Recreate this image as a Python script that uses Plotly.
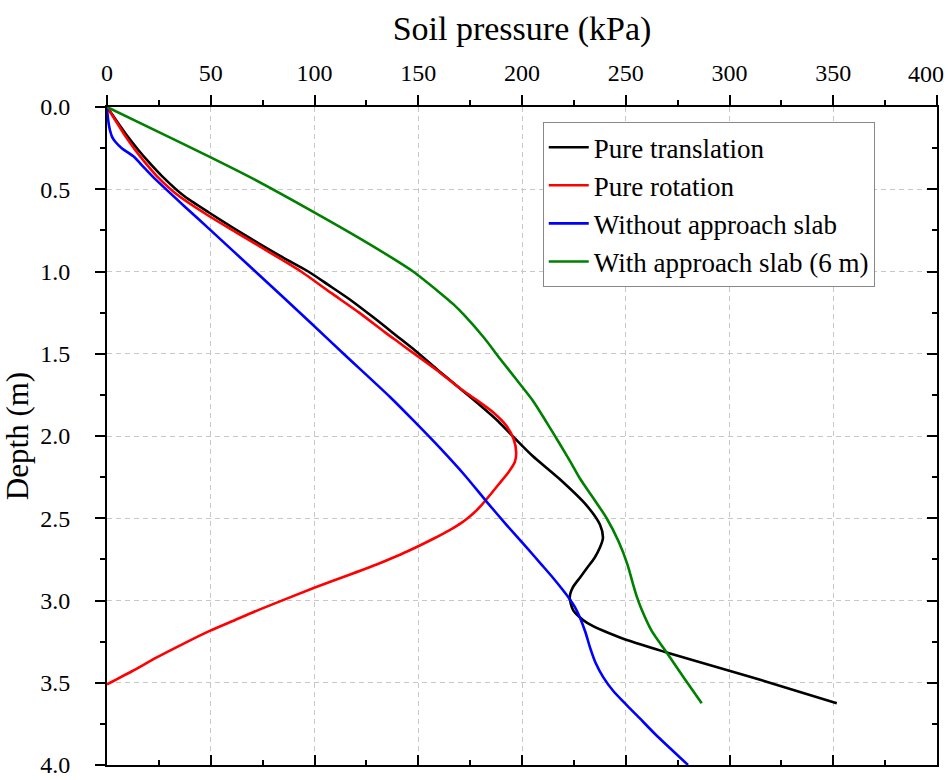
import plotly.graph_objects as go

# ---- data ----
trans_depth = [0, 0.10, 0.18, 0.26, 0.34, 0.42, 0.54, 0.643, 0.74, 0.84, 0.92, 1.00, 1.08,
               1.17, 1.28, 1.39, 1.47, 1.60, 1.71, 1.81, 1.91, 2.02, 2.12, 2.26, 2.42, 2.54,
               2.62, 2.68, 2.74, 2.80, 2.86, 2.92, 2.98, 3.06, 3.135, 3.225, 3.316, 3.417,
               3.498, 3.625]
trans_p = [0, 5.5, 10, 15, 20.5, 26.5, 37, 49.3, 61.5, 74.5, 85.5, 97, 106.5,
           117, 128.5, 139.5, 147.5, 159.5, 170, 179.5, 188.5, 197, 205, 218, 231, 237.6,
           239, 237.5, 235, 231.5, 228, 224.5, 223, 224.7, 231.2, 247.2, 269.7, 297,
           319, 351.7]

rot_depth = [0, 0.10, 0.18, 0.26, 0.34, 0.42, 0.54, 0.664, 0.76, 0.85, 0.93, 1.00, 1.13,
             1.25, 1.37, 1.43, 1.49, 1.60, 1.71, 1.78, 1.85, 1.94, 2.02, 2.10, 2.16, 2.22,
             2.29, 2.36, 2.43, 2.47, 2.50, 2.53, 2.56, 2.59, 2.62, 2.67, 2.72, 2.77, 2.84,
             2.92, 3.054, 3.12, 3.185, 3.265, 3.346, 3.43, 3.51]
rot_p = [0, 5, 9, 13.5, 18.5, 24, 34.5, 49.3, 62, 74, 84.5, 93.5, 108,
         121.5, 134, 140.5, 147, 159, 170, 178, 185.5, 192.6, 196, 197.2, 196.5, 193.5,
         189, 184.5, 179.8, 176.6, 173.8, 170.6, 166.8, 162.5, 158, 150, 141.5, 132, 117.5,
         100.5, 73.7, 61.5, 49.5, 36.5, 24, 12, 0]

noslab_depth = [0, 0.05, 0.10, 0.14, 0.18, 0.21, 0.25, 0.30, 0.37, 0.44, 0.60, 0.744, 1.00,
                1.31, 1.50, 1.763, 1.91, 2.08, 2.24, 2.40, 2.54, 2.68, 2.78, 2.86, 2.93,
                2.983, 3.04, 3.10, 3.19, 3.286, 3.38, 3.467, 3.55, 3.63, 3.70, 3.81, 3.90, 4.00]
noslab_p = [0, 0.3, 0.8, 1.4, 2.4, 3.9, 7.1, 12.7, 18, 23.4, 37, 49.5, 71.5,
            98, 114, 136.4, 148, 161, 172.5, 183, 192.5, 202.4, 209.3, 214.8, 219.3,
            222.5, 225.5, 227.8, 230.5, 232.8, 235.5, 239.2, 244, 250, 255.5, 264, 271.5, 280]

slab_depth = [0, 0.15, 0.30, 0.44, 0.634, 0.80, 0.946, 1.00, 1.13, 1.20, 1.27, 1.40, 1.53,
              1.66, 1.79, 1.92, 2.05, 2.16, 2.26, 2.38, 2.50, 2.64, 2.78, 2.90, 2.983,
              3.044, 3.185, 3.316, 3.47, 3.625]
slab_p = [0, 24.5, 49, 71, 99, 122, 141, 147.5, 160.5, 167, 172.5, 181.5, 189.4,
          197.5, 205.5, 212, 218.3, 223.5, 228, 234.5, 240.8, 246.5, 250.8, 253.5, 255.5,
          257.3, 262.5, 269.7, 278, 286.6]

x_tick_step = 50
y_tick_step = 0.5
x_max = 400
y_max = 4

series = [
    ("Pure translation", trans_p, trans_depth, "#000000"),
    ("Pure rotation", rot_p, rot_depth, "#ff0000"),
    ("Without approach slab", noslab_p, noslab_depth, "#0000ff"),
    ("With approach slab (6 m)", slab_p, slab_depth, "#008000"),
]

FONT = "Liberation Serif"
X_RANGE = [0, x_max]
Y_RANGE = [y_max, 0]
GRID = dict(showgrid=True, gridcolor="#c8c8c8", griddash="5px,4px", gridwidth=1)
TOP, BOTTOM = 107, 15

fig = go.Figure()
for name, xs, ys, col in series:
    fig.add_trace(go.Scatter(
        x=xs, y=ys, name=name, mode="lines",
        line=dict(color=col, width=2.6, shape="spline", smoothing=0.7),
    ))

# dummy trace to show the mirrored (inward-tick) bottom and right axes
fig.add_trace(go.Scatter(x=[None], y=[None], xaxis="x2", yaxis="y2",
                         showlegend=False, hoverinfo="skip"))

common_major = dict(ticklen=10, tickwidth=2, tickcolor="black", automargin=False,
                    showline=True, linecolor="black", linewidth=2, zeroline=False)

fig.update_layout(
    width=952, height=780,
    margin=dict(l=107, r=15, t=TOP, b=BOTTOM, autoexpand=False),
    paper_bgcolor="white", plot_bgcolor="white",
    font=dict(family=FONT, color="black"),
    showlegend=True,
    legend=dict(
        x=0.525, y=0.977, xanchor="left", yanchor="top",
        bordercolor="#888888", borderwidth=1, bgcolor="white",
        font=dict(family=FONT, size=27, color="black"),
        tracegroupgap=0, itemwidth=40,
    ),
    xaxis=dict(
        side="top", range=X_RANGE, tickmode="linear", tick0=0, dtick=x_tick_step,
        ticks="outside", ticklabeloverflow="allow", labelalias={str(x_max): ""},
        minor=dict(ticks="outside", ticklen=5, tickwidth=2, tickcolor="black", dtick=x_tick_step / 2, showgrid=False),
        tickfont=dict(family=FONT, size=24, color="black"),
        ticklabelstandoff=4,
        title=dict(text="Soil pressure (kPa)", font=dict(family=FONT, size=34, color="black"), standoff=10),
        **GRID, **common_major,
    ),
    yaxis=dict(
        range=Y_RANGE, tickmode="linear", tick0=0, dtick=y_tick_step, tickformat=".1f",
        ticks="outside", ticklabeloverflow="allow",
        minor=dict(ticks="outside", ticklen=5, tickwidth=2, tickcolor="black", dtick=y_tick_step / 2, showgrid=False),
        tickfont=dict(family=FONT, size=24, color="black"),
        ticklabelstandoff=20,
        title=dict(text="Depth (m)", font=dict(family=FONT, size=31, color="black"), standoff=4),
        **GRID, **common_major,
    ),
    xaxis2=dict(
        overlaying="x", side="bottom", anchor="y2", range=X_RANGE,
        tickmode="linear", tick0=0, dtick=x_tick_step,
        showticklabels=False, ticks="inside",
        minor=dict(ticks="inside", ticklen=5, tickwidth=2, tickcolor="black", dtick=x_tick_step / 2, showgrid=False),
        showgrid=False,
        **common_major,
    ),
    yaxis2=dict(
        overlaying="y", side="right", anchor="x2", range=Y_RANGE,
        tickmode="linear", tick0=0, dtick=y_tick_step,
        showticklabels=False, ticks="inside",
        minor=dict(ticks="inside", ticklen=5, tickwidth=2, tickcolor="black", dtick=y_tick_step / 2, showgrid=False),
        showgrid=False,
        **common_major,
    ),
)

# last top tick label, nudged left so it stays inside the page
fig.add_annotation(
    text=str(x_max), xref="x", x=x_max, yref="paper", y=1,
    xanchor="right", yanchor="middle", xshift=9, yshift=TOP - 74,
    showarrow=False, font=dict(family=FONT, size=24, color="black"),
)

fig.write_html("out.html")
